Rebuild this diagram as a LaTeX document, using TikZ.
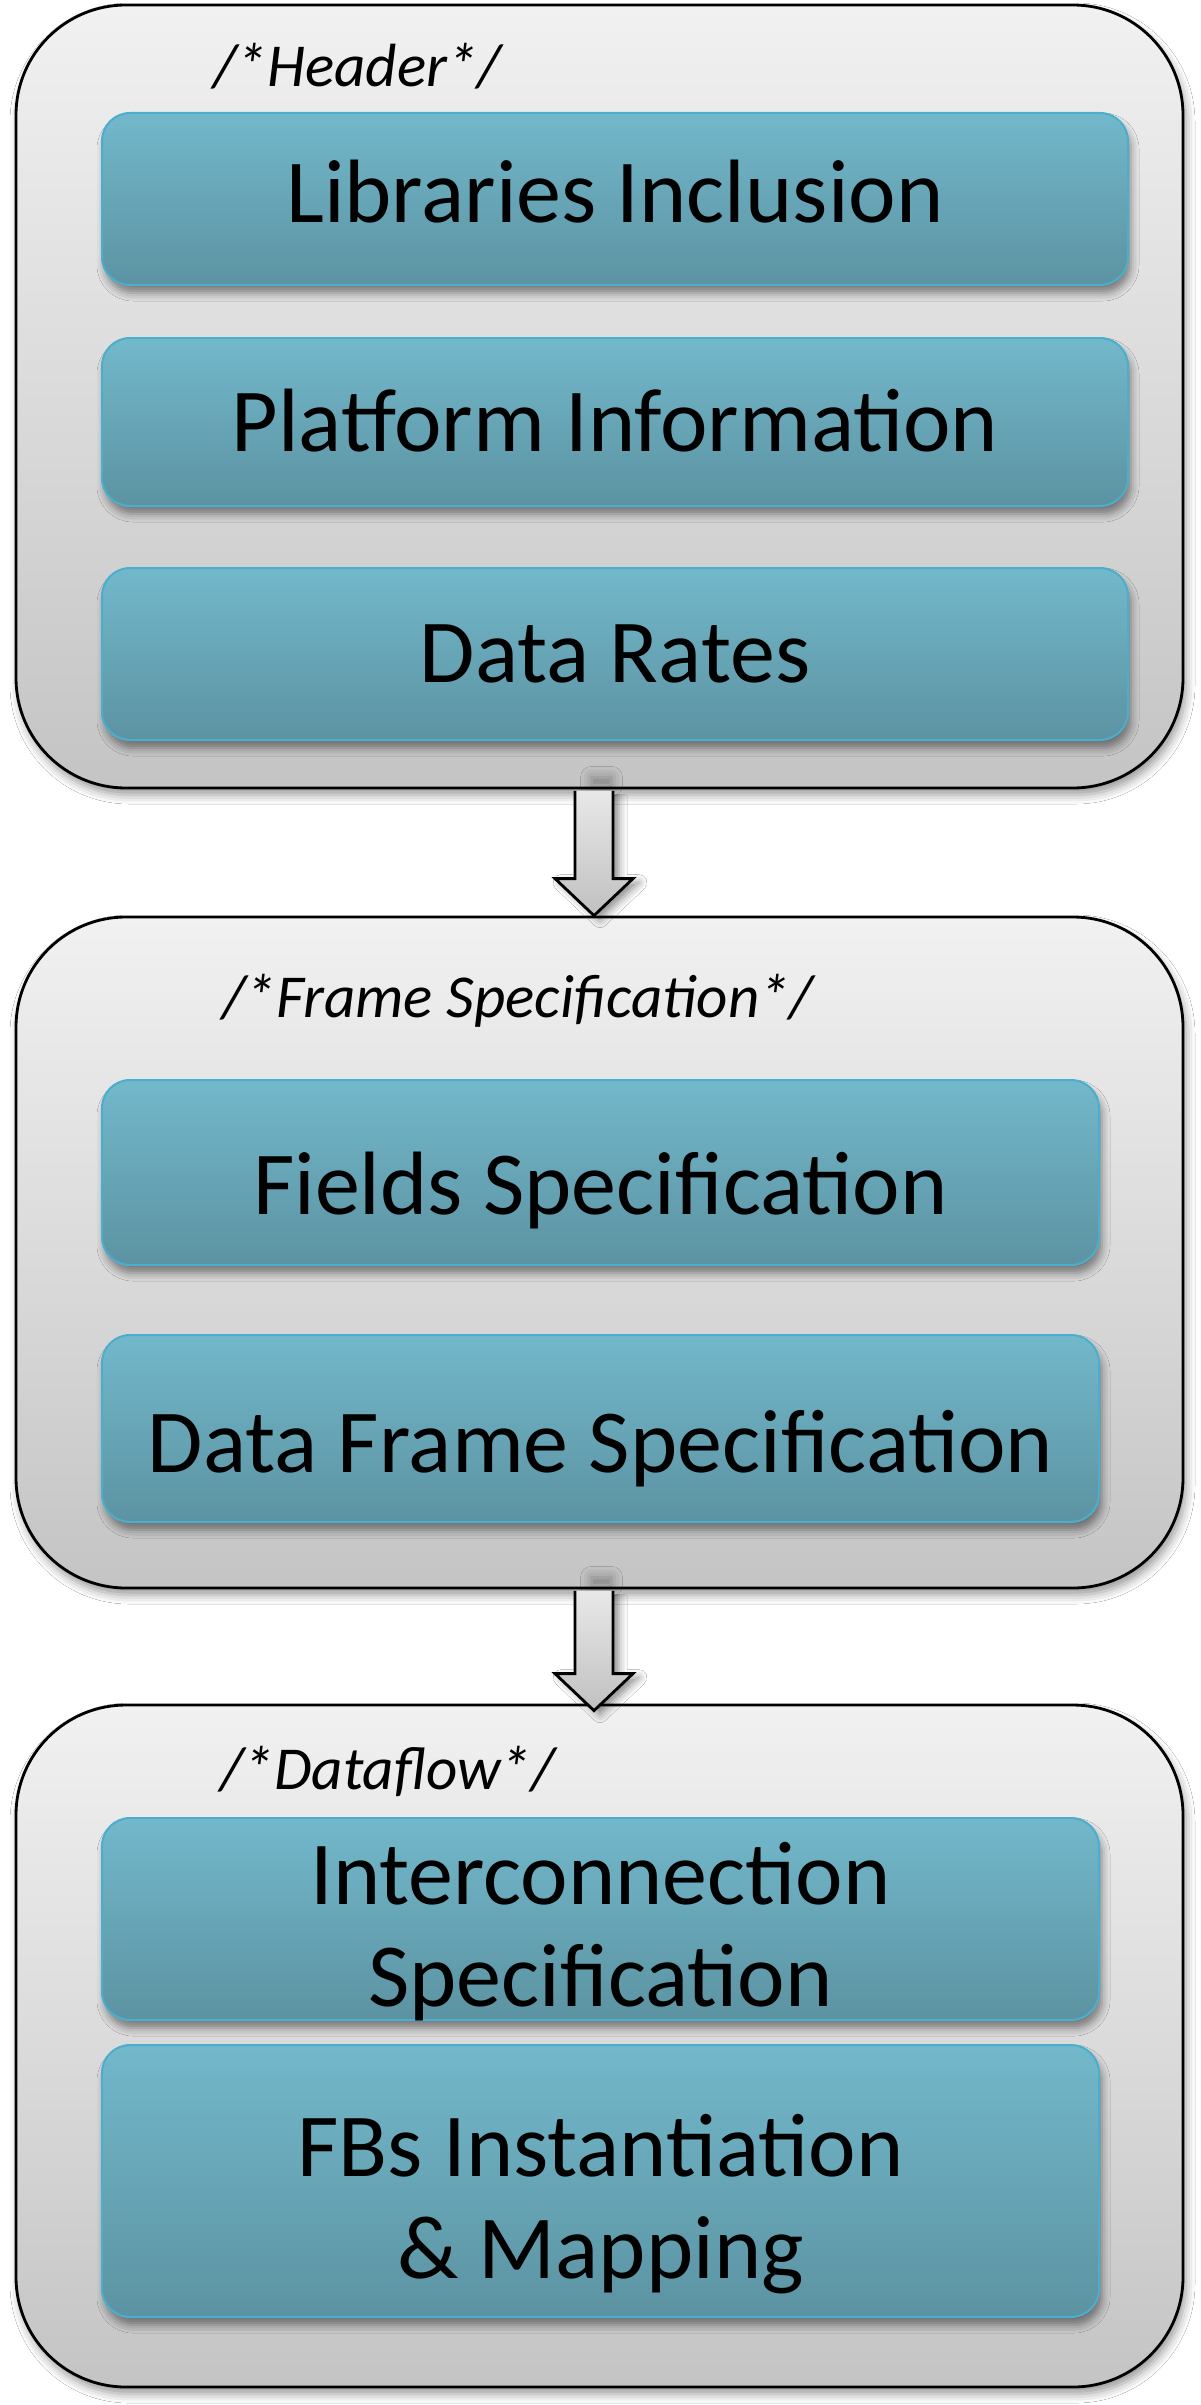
\documentclass[tikz,border=0pt]{standalone}
\usepackage{fontspec}
\setmainfont{Carlito}
\usetikzlibrary{calc,shadows.blur}
\definecolor{outerTop}{RGB}{241,241,241}
\definecolor{outerBot}{RGB}{196,196,196}
\definecolor{innerTop}{RGB}{114,184,203}
\definecolor{innerBot}{RGB}{92,147,162}
\definecolor{innerBorder}{RGB}{75,174,204}
\definecolor{arrowTop}{RGB}{232,232,232}
\definecolor{arrowBot}{RGB}{192,192,192}
\tikzset{
  outerbox/.style={draw=black, line width=2.8pt, rounded corners=110pt,
    top color=outerTop, bottom color=outerBot, inner sep=0pt,
    blur shadow={shadow xshift=3pt, shadow yshift=-7pt, shadow blur radius=9pt, shadow opacity=40}},
  innerbox/.style={draw=innerBorder, line width=2pt, rounded corners=28pt,
    top color=innerTop, bottom color=innerBot, inner sep=0pt,
    blur shadow={shadow xshift=3pt, shadow yshift=-8pt, shadow blur radius=8pt, shadow opacity=45}},
  maintext/.style={font=\fontsize{90}{102}\selectfont, inner sep=0pt, text=black, align=center},
  headtext/.style={font=\fontsize{61}{72}\selectfont\itshape, inner sep=0pt, anchor=base west, text=black},
  blockarrow/.style={draw=black, line width=2.8pt, line join=miter,
    top color=arrowTop, bottom color=arrowBot,
    blur shadow={shadow xshift=6pt, shadow yshift=-4pt, shadow blur radius=8pt, shadow opacity=45}},
  shaftshade/.style={blur shadow={shadow xshift=0pt, shadow yshift=0pt, shadow blur radius=11pt, shadow opacity=35}},
}
\begin{document}
\begin{tikzpicture}[x=1pt,y=-1pt]
\fill[white] (0,0) rectangle (1200,2405);
\useasboundingbox (0,0) rectangle (1200,2405);

% outer sections
\node[outerbox, minimum width=1167pt, minimum height=783pt] (o1) at (599.5,396.5) {};
\node[outerbox, minimum width=1167pt, minimum height=671pt] (o2) at (599.5,1252.5) {};
\node[outerbox, minimum width=1167pt, minimum height=682pt] (o3) at (599.5,2046) {};

% section headings
\node[headtext] (h1) at (213,87) {/*Header*/};
\node[headtext] (h2) at (222,1017) {/*Frame Specification*/};
\node[headtext] (h3) at (220,1789) {/*Dataflow*/};

% inner boxes
\node[innerbox, minimum width=1026pt, minimum height=172pt] (b1) at (615,199) {};
\node[innerbox, minimum width=1026pt, minimum height=168pt] (b2) at (615,422) {};
\node[innerbox, minimum width=1026pt, minimum height=172pt] (b3) at (615,654) {};
\node[innerbox, minimum width=997pt, minimum height=185pt] (b4) at (600.5,1172.5) {};
\node[innerbox, minimum width=997pt, minimum height=187pt] (b5) at (600.5,1428.5) {};
\node[innerbox, minimum width=997pt, minimum height=202pt] (b6) at (600.5,1919) {};
\node[innerbox, minimum width=997pt, minimum height=272pt] (b7) at (600.5,2181) {};

% texts
\node[maintext, anchor=base] (t1) at (b1.center |- 0,223) {Libraries Inclusion};
\node[maintext, anchor=base] (t2) at (b2.center |- 0,451) {Platform Information};
\node[maintext, anchor=base] (t3) at (b3.center |- 0,682) {Data Rates};
\node[maintext, anchor=base] (t4) at (b4.center |- 0,1214) {Fields Specification};
\node[maintext, anchor=base] (t5) at (b5.center |- 0,1472) {Data Frame Specification};
\node[maintext, anchor=north] (t6) at (b6.center |- 0,1842) {Interconnection\\Specification};
\node[maintext, anchor=north] (t7) at (b7.center |- 0,2114) {FBs Instantiation\\\& Mapping};

% soft shadow at the top of the arrow shafts
\path[shaftshade] ($(o1.south)+(-8,-12)$) rectangle ($(o1.south)+(12,-4)$);
\path[shaftshade] ($(o2.south)+(-8,-12)$) rectangle ($(o2.south)+(12,-4)$);

% block arrows
\draw[blockarrow] ($(o1.south)+(-24.5,1.4)$) -- ($(o2.north)+(-24.5,-37)$)
  -- ($(o2.north)+(-44.5,-37)$) -- ($(o2.north)+(-5.5,0)$)
  -- ($(o2.north)+(33.5,-37)$) -- ($(o2.north)+(13.5,-37)$)
  -- ($(o1.south)+(13.5,1.4)$);
\draw[blockarrow] ($(o2.south)+(-24.5,1.4)$) -- ($(o3.north)+(-24.5,-30)$)
  -- ($(o3.north)+(-44.5,-30)$) -- ($(o3.north)+(-5.5,7)$)
  -- ($(o3.north)+(33.5,-30)$) -- ($(o3.north)+(13.5,-30)$)
  -- ($(o2.south)+(13.5,1.4)$);
\end{tikzpicture}
\end{document}
